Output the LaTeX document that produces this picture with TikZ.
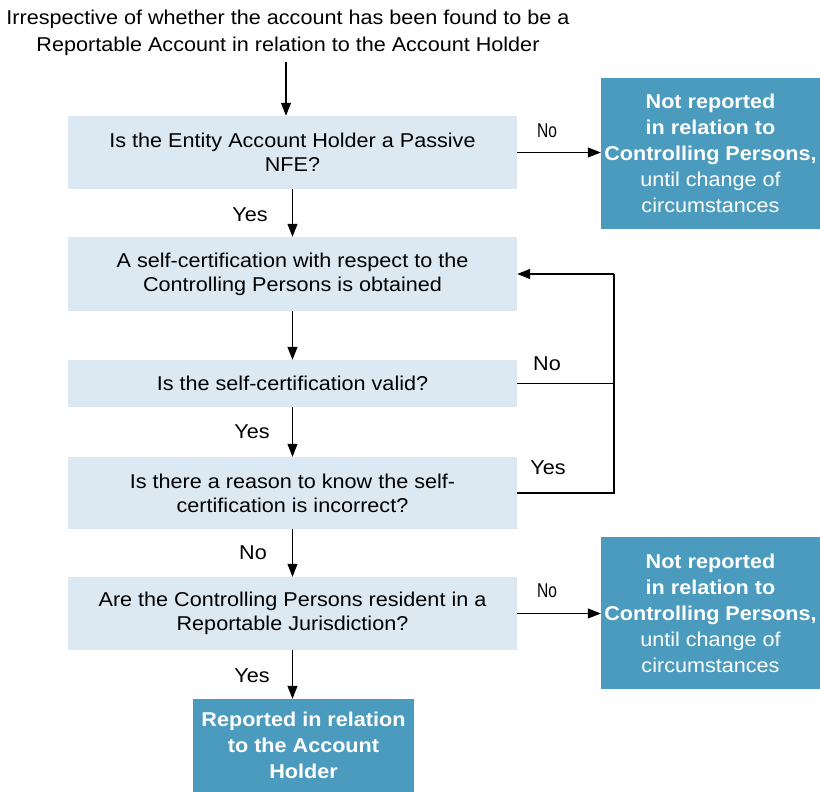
\documentclass[tikz,border=0pt]{standalone}
\usepackage{fontspec}
\usepackage{graphicx}
\setmainfont[FakeStretch=1.08]{Liberation Sans}
\usetikzlibrary{arrows.meta}
\definecolor{lightbox}{HTML}{DCE9F2}
\definecolor{darkbox}{HTML}{4A9BBD}
\begin{document}
\begin{tikzpicture}[x=1pt,y=-1pt,
  qbox/.style={fill=lightbox, minimum width=449pt, align=center, font=\fontsize{20}{24}\selectfont, inner sep=0pt},
  rbox/.style={fill=darkbox, text=white, align=center, font=\fontsize{20}{26}\selectfont, inner sep=0pt},
  lbl/.style={font=\fontsize{20}{22}\selectfont, inner sep=0pt},
  nlbl/.style={font=\fontsize{20}{22}\selectfont, inner sep=0pt},
  arr/.style={line width=1.2pt, -{Triangle[length=13pt,width=10pt]}},
  ln/.style={line width=1.2pt}]
\useasboundingbox (0,0) rectangle (820,792);
\node[align=center, font=\fontsize{20}{27}\selectfont, inner sep=0pt] (title) at (288,33)
  {Irrespective of whether the account has been found to be a\\Reportable Account in relation to the Account Holder};
\node[qbox, minimum height=73pt] (q1) at (292.5,152.5) {Is the Entity Account Holder a Passive\\NFE?};
\node[qbox, minimum height=74pt] (q2) at (292.5,274) {A self-certification with respect to the\\Controlling Persons is obtained};
\node[qbox, minimum height=47pt] (q3) at (292.5,383.5) {Is the self-certification valid?};
\node[qbox, minimum height=72pt] (q4) at (292.5,493) {Is there a reason to know the self-\\certification is incorrect?};
\node[qbox, minimum height=73pt] (q5) at (292.5,613.5) {Are the Controlling Persons resident in a\\Reportable Jurisdiction?};
\node[rbox, minimum width=221pt, minimum height=93pt] (fin) at (303.5,745.5)
  {\textbf{Reported in relation}\\\textbf{to the Account}\\\textbf{Holder}};
\node[rbox, minimum width=219pt, minimum height=151pt] (r1) at (710.5,153.5)
  {\textbf{Not reported}\\\textbf{in relation to}\\\textbf{Controlling Persons,}\\until change of\\circumstances};
\node[rbox, minimum width=219pt, minimum height=152pt] (r2) at (710.5,613)
  {\textbf{Not reported}\\\textbf{in relation to}\\\textbf{Controlling Persons,}\\until change of\\circumstances};
\coordinate (t0) at (286,62);
\draw[arr] (t0) -- (t0 |- q1.north);
\draw[arr] (q1.south) -- (q2.north);
\draw[arr] (q2.south) -- (q3.north);
\draw[arr] (q3.south) -- (q4.north);
\draw[arr] (q4.south) -- (q5.north);
\draw[arr] (q5.south) -- (q5.south |- fin.north);
\draw[arr] (q1.east) -- (r1.west |- q1.east);
\draw[arr] (q5.east) -- (r2.west |- q5.east);
\coordinate (loopx) at (614,0);
\draw[ln] (q3.east) -- (q3.east -| loopx);
\draw[ln] (q4.east) -- (q4.east -| loopx) -- (q2.east -| loopx);
\draw[arr] (q2.east -| loopx) -- (q2.east);
\node[lbl] (y1) at (250,215) {Yes};
\node[lbl] (y2) at (252,432) {Yes};
\node[lbl] (n2) at (253,553) {No};
\node[lbl] (y3) at (252,676) {Yes};
\node[lbl] (n3) at (547,364) {No};
\node[lbl] (y4) at (548,468) {Yes};
\node[nlbl] (n1) at (547,131) {\scalebox{0.72}[1]{No}};
\node[nlbl] (n4) at (547,591) {\scalebox{0.72}[1]{No}};
\end{tikzpicture}
\end{document}
